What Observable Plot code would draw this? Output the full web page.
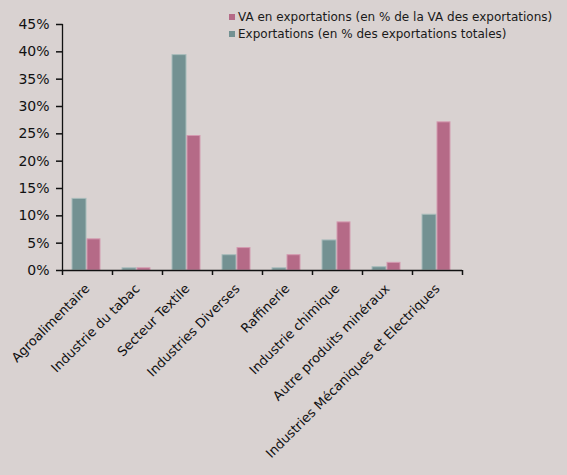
<!DOCTYPE html>
<html>
<head>
<meta charset="utf-8">
<script src="https://cdn.jsdelivr.net/npm/d3@7"></script>
<script src="https://cdn.jsdelivr.net/npm/@observablehq/plot@0.6"></script>
<style>
  html, body { margin: 0; padding: 0; background: #d9d2d1; }
  #wrap { position: relative; width: 567px; height: 475px; font-family: "DejaVu Sans", sans-serif; }
  #wrap svg { display: block; }
  #legend { position: absolute; left: 229px; top: 9px; font-size: 12px; color: #1a1a1a; line-height: 16.5px; }
  #legend .item { display: flex; align-items: center; white-space: nowrap; }
  #legend .sw { width: 6px; height: 6px; margin-right: 3px; }
</style>
</head>
<body>
<div id="wrap"><div id="legend"></div></div>
<script>
const categories = ["Agroalimentaire", "Industrie du tabac", "Secteur Textile", "Industries Diverses", "Raffinerie", "Industrie chimique", "Autre produits minéraux", "Industries Mécaniques et Electriques"];
const exportsShare = [13.1, 0.4, 39.4, 2.8, 0.4, 5.5, 0.6, 10.2];
const vaShare = [5.7, 0.4, 24.6, 4.1, 2.8, 8.8, 1.4, 27.1];
const seriesNames = ["VA en exportations (en % de la VA des exportations)", "Exportations (en % des exportations totales)"];
const seriesColors = ["#b56a87", "#739192"];
const yTicks = [0, 5, 10, 15, 20, 25, 30, 35, 40, 45];

const dataExp = categories.map((c, i) => ({cat: c, v: exportsShare[i]}));
const dataVa = categories.map((c, i) => ({cat: c, v: vaShare[i]}));
const lastCat = [categories[categories.length - 1]];

const chart = Plot.plot({
  width: 567,
  height: 475,
  marginLeft: 62,
  marginRight: 105,
  marginTop: 24,
  marginBottom: 205,
  style: {background: "transparent", fontFamily: "DejaVu Sans, sans-serif", color: "#111"},
  x: {domain: categories, padding: 0},
  y: {domain: [0, 45]},
  marks: [
    Plot.barY(dataExp, {x: "cat", y: "v", fill: seriesColors[1], stroke: "#a8bcbb", strokeWidth: 1, insetLeft: 10, insetRight: 26}),
    Plot.barY(dataVa, {x: "cat", y: "v", fill: seriesColors[0], stroke: "#d49ab0", strokeWidth: 1, insetLeft: 25, insetRight: 12}),
    // category boundary ticks below the x axis
    Plot.ruleX(categories, {x: d => d, dx: -25, y1: 0, y2: 0, insetBottom: -5, stroke: "#111", strokeWidth: 1.5}),
    Plot.ruleX(lastCat, {x: d => d, dx: 25, y1: 0, y2: 0, insetBottom: -5, stroke: "#111", strokeWidth: 1.5}),
    Plot.frame({anchor: "left", stroke: "#111", strokeWidth: 1.3}),
    Plot.ruleY([0], {stroke: "#111", strokeWidth: 1.3}),
    Plot.axisY({ticks: yTicks, tickSize: 6, tickPadding: 7, strokeWidth: 1.5, fontSize: 14, tickFormat: d => d + "%", label: null}),
    Plot.axisX({tickSize: 0, tickRotate: -45, tickPadding: 16, fontSize: 13, label: null})
  ]
});
document.getElementById("wrap").prepend(chart);

const legend = document.getElementById("legend");
seriesNames.forEach((n, i) => {
  const item = document.createElement("div");
  item.className = "item";
  const sw = document.createElement("span");
  sw.className = "sw";
  sw.style.background = seriesColors[i];
  const t = document.createElement("span");
  t.textContent = n;
  item.append(sw, t);
  legend.append(item);
});
</script>
</body>
</html>
